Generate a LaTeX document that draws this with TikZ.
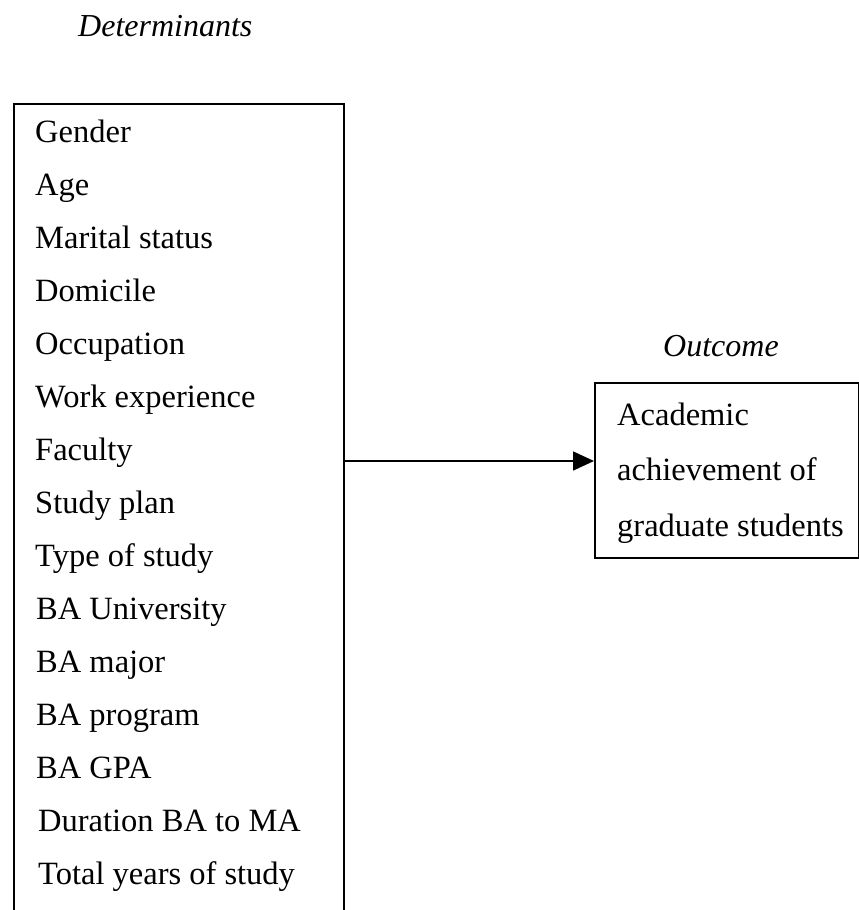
\documentclass[tikz,border=0pt]{standalone}
\usepackage{fontspec}
\setmainfont{Liberation Serif}
\usetikzlibrary{arrows.meta}
\begin{document}
\begin{tikzpicture}[x=1pt,y=-1pt,
  boxline/.style={draw=black,line width=1.5pt},
  item/.style={anchor=base west,inner sep=0pt,font=\fontsize{32.5}{38}\selectfont},
  head/.style={anchor=base west,inner sep=0pt,font=\fontsize{32}{38}\selectfont\itshape},
  link/.style={draw=black,line width=1.6pt,-{Triangle[length=21pt,width=19pt]}}]
\useasboundingbox (0,0) rectangle (859,910);
\clip (0,0) rectangle (859,910);
% boxes
\node[boxline,minimum width=330pt,minimum height=860pt,inner sep=0pt,anchor=north west] (detbox) at (13,103) {};
\node[boxline,minimum width=264pt,minimum height=175pt,inner sep=0pt,anchor=north west] (outbox) at (594,382) {};
% headings
\node[head] (dethead) at (78,36) {Determinants};
\node[head] (outhead) at (663,356) {Outcome};
% determinants
\node[item] (d1) at (35,142) {Gender};
\node[item] (d2) at (35,195) {Age};
\node[item] (d3) at (35,248) {Marital status};
\node[item] (d4) at (35,301) {Domicile};
\node[item] (d5) at (35,354) {Occupation};
\node[item] (d6) at (35,407) {Work experience};
\node[item] (d7) at (35,460) {Faculty};
\node[item] (d8) at (35,513) {Study plan};
\node[item] (d9) at (35,566) {Type of study};
\node[item] (d10) at (36,619) {BA University};
\node[item] (d11) at (36,672) {BA major};
\node[item] (d12) at (36,725) {BA program};
\node[item] (d13) at (36,778) {BA GPA};
\node[item] (d14) at (38,831) {Duration BA to MA};
\node[item] (d15) at (38,884) {Total years of study};
% outcome
\node[item] (o1) at (617,425) {Academic};
\node[item] (o2) at (617,480.5) {achievement of};
\node[item] (o3) at (617,536) {graduate students};
% connector
\coordinate (a1) at (detbox.east |- 0,461);
\draw[link] (a1) -- (a1 -| outbox.west);
\end{tikzpicture}
\end{document}
